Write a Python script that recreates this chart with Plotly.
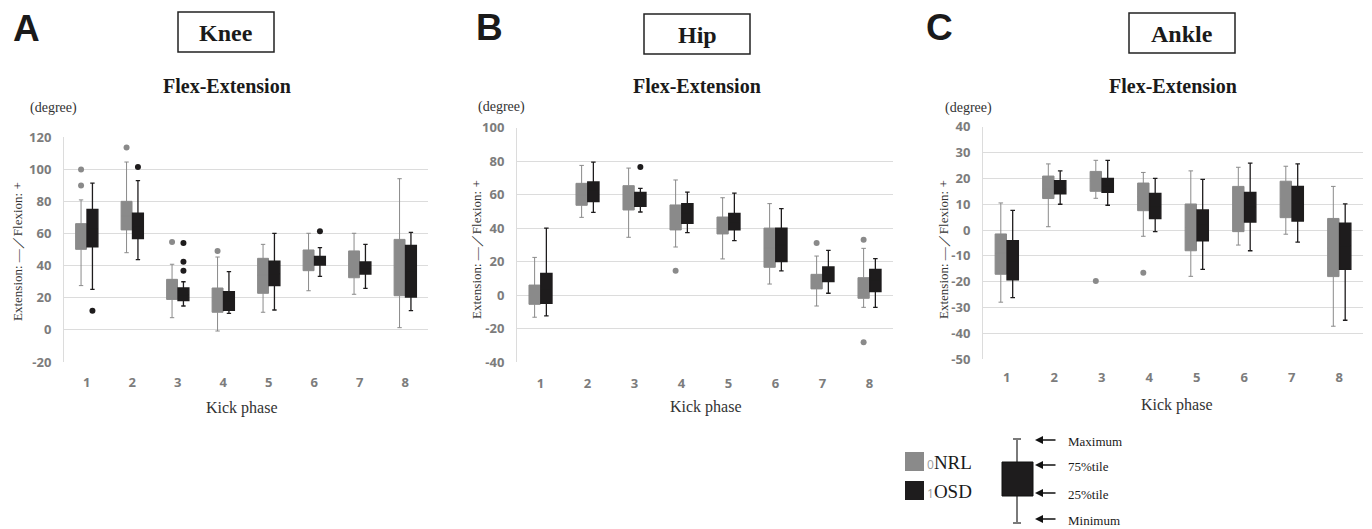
import plotly.graph_objects as go

W, H = 1372, 529

phases = [1, 2, 3, 4, 5, 6, 7, 8]

# ---------------- Knee (A) ----------------
knee_nrl_max = [81, 104.6, 40.9, 45.4, 53.3, 60.2, 60.2, 94.2]
knee_nrl_q3 = [66.2, 80.1, 31.5, 26.1, 44.6, 49.8, 49.2, 56.4]
knee_nrl_med = [58, 71, 25, 18, 34, 43, 41, 39]
knee_nrl_q1 = [50.2, 62.3, 19.0, 11.0, 22.8, 36.9, 32.5, 21.3]
knee_nrl_min = [27.6, 48.1, 7.6, -0.7, 11.0, 24.4, 22.2, 1.4]
knee_osd_max = [91.5, 93.0, 30.0, 36.3, 60.2, 51.2, 53.3, 60.8]
knee_osd_q3 = [75.1, 72.8, 26.1, 23.8, 42.9, 45.8, 42.3, 52.7]
knee_osd_med = [63, 65, 22, 18, 35, 43, 38, 37]
knee_osd_q1 = [51.7, 56.9, 18.2, 12.2, 27.6, 40.4, 34.8, 20.5]
knee_osd_min = [25.3, 43.8, 14.9, 10.3, 12.4, 33.4, 25.9, 12.0]
knee_nrl_out_x = [1, 1, 2, 3, 4]
knee_nrl_out_y = [100, 89.9, 113.6, 54.8, 49.2]
knee_osd_out_x = [1, 2, 3, 3, 3, 6]
knee_osd_out_y = [12, 101.5, 54.2, 42.5, 36.9, 61.4]
knee_ticks = [-20, 0, 20, 40, 60, 80, 100, 120]

# ---------------- Hip (B) ----------------
hip_nrl_max = [22.6, 77.5, 75.9, 68.8, 58.2, 54.7, 23.4, 28.0]
hip_nrl_q3 = [6.1, 66.8, 65.4, 53.9, 46.7, 40.1, 12.5, 10.5]
hip_nrl_med = [0, 60, 58, 46, 42, 28, 8, 4]
hip_nrl_q1 = [-5.4, 53.7, 50.9, 39.0, 36.6, 16.7, 3.8, -1.8]
hip_nrl_min = [-13.1, 46.5, 34.6, 28.8, 21.7, 6.7, -6.4, -7.2]
hip_osd_max = [40.1, 79.5, 63.8, 61.6, 61.0, 51.7, 26.8, 21.9]
hip_osd_q3 = [13.1, 67.6, 61.4, 54.7, 48.9, 40.1, 16.9, 15.5]
hip_osd_med = [4, 62, 57, 49, 44, 30, 12, 9]
hip_osd_q1 = [-4.8, 55.9, 53.1, 42.9, 39.0, 20.1, 8.1, 2.2]
hip_osd_min = [-12.3, 49.5, 49.7, 37.4, 32.6, 14.5, 1.2, -7.2]
hip_nrl_out_x = [4, 7, 8, 8]
hip_nrl_out_y = [14.7, 31.2, 33.2, -28.1]
hip_osd_out_x = [3]
hip_osd_out_y = [76.5]
hip_ticks = [-40, -20, 0, 20, 40, 60, 80, 100]

# ---------------- Ankle (C) ----------------
ank_nrl_max = [10.5, 25.6, 27.0, 22.3, 22.9, 24.3, 24.7, 16.9]
ank_nrl_q3 = [-1.5, 20.9, 22.7, 18.2, 10.1, 16.9, 18.9, 4.5]
ank_nrl_med = [-9, 16, 19, 13, 1, 8, 12, -7]
ank_nrl_q1 = [-17.1, 12.2, 15.0, 7.5, -8.0, -0.6, 4.8, -18.0]
ank_nrl_min = [-27.9, 1.3, 12.3, -2.4, -17.9, -5.8, -1.6, -37.2]
ank_osd_max = [7.6, 22.9, 27.0, 20.0, 19.6, 25.9, 25.6, 10.1]
ank_osd_q3 = [-4.1, 19.1, 20.0, 14.2, 7.8, 14.6, 16.9, 2.7]
ank_osd_med = [-12, 16, 17, 9, 2, 9, 10, -6]
ank_osd_q1 = [-19.3, 14.0, 14.6, 4.4, -4.2, 3.1, 3.5, -15.2]
ank_osd_min = [-26.1, 10.0, 9.6, -0.6, -15.2, -8.0, -4.7, -34.9]
ank_nrl_out_x = [3, 4]
ank_nrl_out_y = [-19.7, -16.5]
ank_osd_out_x = []
ank_osd_out_y = []
ank_ticks = [-50, -40, -30, -20, -10, 0, 10, 20, 30, 40]

panel_letters = ["A", "B", "C"]
joint_names = ["Knee", "Hip", "Ankle"]
sub_title = "Flex-Extension"
unit_label = "(degree)"
y_title = "Extension: \u2015\uff0fFlexion: +"
x_title = "Kick phase"
group_names = ["NRL", "OSD"]
group_codes = ["0", "1"]
legend_labels = ["Maximum", "75%tile", "25%tile", "Minimum"]

GRAY = "#8a8a8a"
BLACK = "#1e1c1d"
GRID = "#dcdcdc"
TICK = "#7c7c7c"
SERIF = "Liberation Serif"
SANS = "Open Sans"

def px(x):
    return x / W

def py(y):
    return 1 - y / H

fig = go.Figure()

panels = [
    dict(nrl=(knee_nrl_min, knee_nrl_q1, knee_nrl_med, knee_nrl_q3, knee_nrl_max),
         osd=(knee_osd_min, knee_osd_q1, knee_osd_med, knee_osd_q3, knee_osd_max),
         nout=(knee_nrl_out_x, knee_nrl_out_y), oout=(knee_osd_out_x, knee_osd_out_y),
         ticks=knee_ticks, xd=(64, 428), yd=(137.3, 362)),
    dict(nrl=(hip_nrl_min, hip_nrl_q1, hip_nrl_med, hip_nrl_q3, hip_nrl_max),
         osd=(hip_osd_min, hip_osd_q1, hip_osd_med, hip_osd_q3, hip_osd_max),
         nout=(hip_nrl_out_x, hip_nrl_out_y), oout=(hip_osd_out_x, hip_osd_out_y),
         ticks=hip_ticks, xd=(517, 893), yd=(127.7, 362.3)),
    dict(nrl=(ank_nrl_min, ank_nrl_q1, ank_nrl_med, ank_nrl_q3, ank_nrl_max),
         osd=(ank_osd_min, ank_osd_q1, ank_osd_med, ank_osd_q3, ank_osd_max),
         nout=(ank_nrl_out_x, ank_nrl_out_y), oout=(ank_osd_out_x, ank_osd_out_y),
         ticks=ank_ticks, xd=(983, 1363), yd=(126.7, 359.3)),
]
x_standoff = [11, 12, 9]

OFF = 0.125
for i, p in enumerate(panels):
    sfx = "" if i == 0 else str(i + 1)
    xa, ya = "x" + sfx, "y" + sfx
    for g, key, col, lw in [(0, "nrl", GRAY, 1.0), (1, "osd", BLACK, 1.3)]:
        mn, q1, md, q3, mx = p[key]
        fig.add_trace(go.Box(
            x=phases, q1=q1, median=md, q3=q3, lowerfence=mn, upperfence=mx,
            name=group_names[g], offsetgroup=str(g),
            fillcolor=col, line=dict(color=col, width=lw),
            whiskerwidth=0.4, boxpoints=False, showlegend=False,
            xaxis=xa, yaxis=ya, hoverinfo="skip"))
    for key, col, sgn in [("nout", GRAY, -1), ("oout", BLACK, 1)]:
        ox, oy = p[key]
        if ox:
            fig.add_trace(go.Scatter(
                x=[v + sgn * OFF for v in ox], y=oy, mode="markers",
                marker=dict(color=col, size=6), showlegend=False,
                xaxis=xa, yaxis=ya, hoverinfo="skip"))

    tv = p["ticks"]
    x0, x1 = p["xd"]
    y0, y1 = p["yd"]
    fig.layout["xaxis" + sfx] = dict(
        domain=[px(x0), px(x1)], range=[0.5, 8.5], tickvals=phases,
        showgrid=False, zeroline=False, showline=False, ticks="",
        ticklabelstandoff=x_standoff[i], automargin=False,
        tickfont=dict(family=SANS, size=13, color=TICK, weight="bold"),
        anchor=ya, fixedrange=True)
    fig.layout["yaxis" + sfx] = dict(
        domain=[py(y1), py(y0)], range=[tv[0], tv[-1]],
        tickvals=tv, ticktext=[str(v) for v in tv],
        showgrid=True, gridcolor=GRID, gridwidth=1, zeroline=False,
        showline=True, linecolor=GRID, linewidth=1, ticks="",
        ticklabelstandoff=9, automargin=False,
        tickfont=dict(family=SANS, size=13, color=TICK, weight="bold"),
        anchor=xa, fixedrange=True)

# Text elements per panel (pixel positions)
letter_pos = [(26, 29), (489, 27), (939, 27)]
box_rects = [(178, 12, 274, 52), (644, 14, 750, 54), (1129, 13, 1235, 53)]
sub_pos = [(227, 86), (697, 86), (1173, 86)]
unit_pos = [(53, 108), (501, 107), (968, 108)]
ytitle_pos = [(17, 252), (476, 250), (943, 250)]
xtitle_pos = [(242, 408), (706, 407), (1177, 405)]

def ann(x, y, text, font, **kw):
    d = dict(x=px(x), y=py(y), xref="paper", yref="paper", text=text,
             showarrow=False, xanchor="center", yanchor="middle", font=font)
    d.update(kw)
    return d

annotations = []
shapes = []
for i in range(3):
    lx, ly = letter_pos[i]
    annotations.append(ann(lx, ly, "<b>%s</b>" % panel_letters[i],
                           dict(family="Liberation Sans", size=37, color="#1a1a1a")))
    bx0, by0, bx1, by1 = box_rects[i]
    shapes.append(dict(type="rect", xref="paper", yref="paper",
                       x0=px(bx0), x1=px(bx1), y0=py(by1), y1=py(by0),
                       line=dict(color="#222222", width=1.5), fillcolor="rgba(0,0,0,0)"))
    annotations.append(ann((bx0 + bx1) / 2, (by0 + by1) / 2 + 1, "<b>%s</b>" % joint_names[i],
                           dict(family=SERIF, size=24, color="#1a1a1a")))
    sx, sy = sub_pos[i]
    annotations.append(ann(sx, sy, "<b>%s</b>" % sub_title,
                           dict(family=SERIF, size=20, color="#1a1a1a")))
    ux, uy = unit_pos[i]
    annotations.append(ann(ux, uy, unit_label, dict(family=SERIF, size=14, color="#333333")))
    tx, ty = ytitle_pos[i]
    annotations.append(ann(tx, ty, y_title, dict(family=SERIF, size=13, color="#333333"),
                           textangle=-90))
    kx, ky = xtitle_pos[i]
    annotations.append(ann(kx, ky, x_title, dict(family=SERIF, size=16, color="#333333")))

# Group legend
for g, (col, yy) in enumerate([(GRAY, 461.5), (BLACK, 490.5)]):
    shapes.append(dict(type="rect", xref="paper", yref="paper",
                       x0=px(905), x1=px(924), y0=py(yy + 9.5), y1=py(yy - 9.5),
                       line=dict(width=0), fillcolor=col))
    annotations.append(ann(925, yy + 1,
                           "<span style='font-family:Open Sans;font-size:12px;color:#9a9a9a'>%s</span>%s"
                           % (group_codes[g], group_names[g]),
                           dict(family=SERIF, size=19, color="#1a1a1a"), xanchor="left"))

# Box-plot key
shapes.append(dict(type="line", xref="paper", yref="paper",
                   x0=px(1017), x1=px(1017), y0=py(439), y1=py(523),
                   line=dict(color="#7a7a7a", width=2)))
for yy in (439, 523):
    shapes.append(dict(type="line", xref="paper", yref="paper",
                       x0=px(1013), x1=px(1021), y0=py(yy), y1=py(yy),
                       line=dict(color="#7a7a7a", width=2)))
shapes.append(dict(type="rect", xref="paper", yref="paper",
                   x0=px(1002), x1=px(1033), y0=py(496), y1=py(462),
                   line=dict(color="#111111", width=1), fillcolor=BLACK))
for lab, yy in zip(legend_labels, [440, 465, 493, 519]):
    annotations.append(dict(x=px(1035), y=py(yy), xref="paper", yref="paper",
                            ax=22, ay=0, text="", showarrow=True,
                            arrowhead=2, arrowsize=1, arrowwidth=1.6, arrowcolor="#111111"))
    annotations.append(ann(1066, yy + 1, lab, dict(family=SERIF, size=13, color="#1a1a1a"),
                           xanchor="left"))

fig.update_layout(
    autosize=True, margin=dict(l=0, r=0, t=0, b=0, pad=0, autoexpand=False),
    paper_bgcolor="white", plot_bgcolor="white",
    boxmode="group", boxgap=0.5, boxgroupgap=0.04,
    annotations=annotations, shapes=shapes, showlegend=False)

fig.write_html(
    "out.html",
    config={"displayModeBar": False, "responsive": True},
    default_width="100%", default_height="100%",
    post_script=(
        "document.documentElement.style.margin='0';"
        "document.documentElement.style.height='100%';"
        "document.body.style.margin='0';document.body.style.padding='0';"
        "document.body.style.height='100%';document.body.style.overflow='hidden';"
        "var gd=document.getElementById('{plot_id}');"
        "gd.parentElement.style.height='100%';"
        "gd.style.width='100vw';gd.style.height='100vh';"
        "Plotly.Plots.resize(gd);"
    ),
)
